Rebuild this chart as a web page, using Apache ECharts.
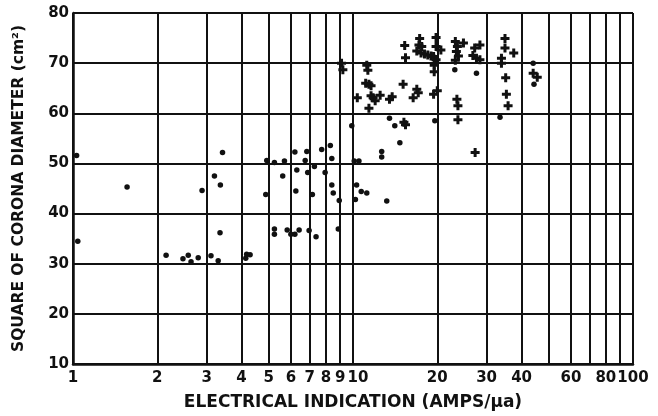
<!DOCTYPE html>
<html>
<head>
<meta charset="utf-8">
<script src="https://cdn.jsdelivr.net/npm/echarts@6/dist/echarts.min.js"></script>
<style>
  html, body { margin: 0; padding: 0; background: #fff; }
  #chart { width: 658px; height: 416px; }
</style>
</head>
<body>
<div id="chart"></div>
<script>
// Log-cycle grid lines and the labelled subset of them
const xGridValues = [1, 2, 3, 4, 5, 6, 7, 8, 9, 10, 20, 30, 40, 50, 60, 70, 80, 90, 100];
const xTickLabels = [1, 2, 3, 4, 5, 6, 7, 8, 9, 10, 20, 30, 40, 60, 80, 100];

// Readings plotted as dots
const dotX = [1.03, 1.56, 1.04,
  2.15, 2.47, 2.58, 2.64, 2.80, 3.11, 3.30, 3.35,
  2.89, 3.20, 3.36, 3.42,
  4.14, 4.17, 4.29,
  5.24, 5.24, 5.82, 6.0, 6.2, 6.42, 6.97, 7.38, 8.86,
  4.88, 4.92, 5.24, 5.69, 5.61, 6.2, 6.30, 6.25, 6.75, 6.84, 6.89, 7.16, 7.28, 7.73, 7.95, 8.3, 8.4,
  8.4, 8.5, 8.93,
  9.9, 10.1, 10.5, 10.3, 10.7, 11.2, 10.2,
  12.66, 12.66, 13.2,
  13.5, 14.1, 14.7, 19.6,
  23.1, 27.6, 33.5, 44.0, 44.3];
const dotY = [51.6, 45.3, 34.5,
  31.7, 31.0, 31.7, 30.4, 31.2, 31.6, 30.6, 36.2,
  44.6, 47.5, 45.7, 52.2,
  31.1, 31.9, 31.8,
  36.9, 35.9, 36.7, 35.9, 35.9, 36.7, 36.6, 35.4, 36.9,
  43.8, 50.6, 50.2, 50.5, 47.5, 52.3, 48.7, 44.5, 50.6, 52.4, 48.2, 43.8, 49.4, 52.8, 48.2, 53.6, 51.0,
  45.7, 44.1, 42.6,
  57.5, 50.5, 50.5, 45.7, 44.4, 44.1, 42.8,
  52.4, 51.3, 42.5,
  59.0, 57.5, 54.1, 58.5,
  68.7, 68.0, 59.2, 70.0, 65.8];

// Readings plotted as crosses
const crossX = [9.1, 9.2,
  10.36, 11.2, 11.3, 11.1, 11.4, 11.6,
  11.6, 11.8, 12.0, 12.5, 11.4,
  13.5, 13.8, 15.1,
  15.3, 15.4, 15.2, 15.4,
  16.4, 16.9, 17.1,
  17.3, 17.2, 17.6,
  16.9, 17.5, 18.0, 18.5, 19.0,
  19.8, 19.8, 19.4, 19.8, 19.5, 19.5, 20.6,
  20.0, 19.4,
  23.2, 23.6, 23.4, 23.8, 23.2, 24.8,
  23.5, 23.7, 23.7,
  27.2, 28.4, 26.8, 27.6, 28.4, 27.3,
  34.9, 34.9, 37.5, 33.9, 33.9, 35.1, 35.3, 35.8,
  44.0, 45.5];
const crossY = [70.0, 68.7,
  63.1, 69.6, 68.6, 66.0, 65.8, 65.5,
  63.5, 63.1, 62.5, 63.6, 61.0,
  62.8, 63.3, 65.8,
  73.5, 71.1, 58.2, 57.7,
  63.1, 64.8, 64.1,
  74.9, 73.6, 73.3,
  72.4, 72.0, 71.8, 71.6, 71.4,
  75.1, 73.3, 71.3, 70.7, 69.6, 68.3, 72.6,
  64.5, 63.8,
  74.3, 73.3, 72.3, 71.4, 70.6, 74.0,
  62.8, 61.5, 58.7,
  73.0, 73.6, 71.5, 71.0, 70.7, 52.2,
  74.9, 73.0, 72.0, 71.0, 70.0, 67.1, 63.8, 61.5,
  68.0, 67.2];

const pairs = (xs, ys) => xs.map((x, i) => [x, ys[i]]);

const ink = '#111';
const font = 'DejaVu Sans';
const plusPath = 'path://M3,0H6V3H9V6H6V9H3V6H0V3H3Z';

const chart = echarts.init(document.getElementById('chart'), null, { renderer: 'canvas' });
chart.setOption({
  backgroundColor: '#fff',
  animation: false,
  grid: { left: 73, right: 25, top: 13, bottom: 48, containLabel: false },
  xAxis: {
    type: 'log',
    logBase: 10,
    min: 1,
    max: 100,
    name: 'ELECTRICAL INDICATION (AMPS/μa)',
    nameLocation: 'middle',
    nameGap: 30,
    nameTextStyle: { color: ink, fontFamily: font, fontWeight: 'bold', fontSize: 17 },
    axisLine: { show: true, lineStyle: { color: ink, width: 2.5 } },
    axisTick: { show: false, customValues: xGridValues },
    axisLabel: {
      customValues: xTickLabels,
      color: ink, fontFamily: font, fontWeight: 'bold', fontSize: 15, margin: 7,
      formatter: v => (Math.abs(v - 10) < 1e-6 ? '{shift|10}' : String(Math.round(v))),
      rich: { shift: { color: ink, fontFamily: font, fontWeight: 'bold', fontSize: 15, padding: [0, 0, 0, 10] } }
    },
    splitLine: { show: true, lineStyle: { color: ink, width: 2 } },
    minorTick: { show: false },
    minorSplitLine: { show: false }
  },
  yAxis: {
    type: 'value',
    min: 10,
    max: 80,
    interval: 10,
    name: 'SQUARE OF CORONA DIAMETER (cm²)',
    nameLocation: 'middle',
    nameGap: 46,
    nameTextStyle: { color: ink, fontFamily: font, fontWeight: 'bold', fontSize: 15.5 },
    axisLine: { show: true, lineStyle: { color: ink, width: 2.5 } },
    axisTick: { show: false },
    axisLabel: { color: ink, fontFamily: font, fontWeight: 'bold', fontSize: 15, margin: 4 },
    splitLine: { show: true, lineStyle: { color: ink, width: 2 } }
  },
  series: [
    {
      name: 'dots',
      type: 'scatter',
      data: pairs(dotX, dotY),
      symbol: 'circle',
      symbolSize: 5.5,
      itemStyle: { color: ink, opacity: 1 },
      z: 5
    },
    {
      name: 'crosses',
      type: 'scatter',
      data: pairs(crossX, crossY),
      symbol: plusPath,
      symbolSize: 9,
      itemStyle: { color: ink, opacity: 1 },
      z: 6
    }
  ]
});
</script>
</body>
</html>
